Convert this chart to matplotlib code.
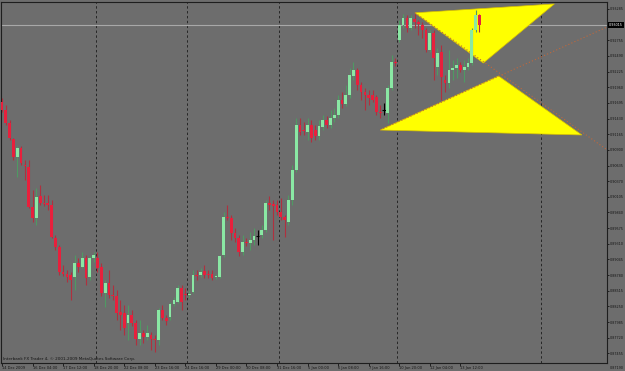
import matplotlib
matplotlib.use("Agg")
import matplotlib.pyplot as plt
from matplotlib.patches import Polygon

# H4 candles (price units)
opens = [0.91710, 0.91575, 0.91355, 0.91084, 0.90779, 0.90932, 0.90644, 0.90610, 0.89932, 0.89746,
         0.90119, 0.90000, 0.90000, 0.89966, 0.89408, 0.89255, 0.88832, 0.88798, 0.88781, 0.88747,
         0.88984, 0.88917, 0.89069, 0.88747, 0.89069, 0.89069, 0.88917, 0.88476, 0.88646, 0.88443,
         0.88426, 0.88155, 0.88138, 0.87968, 0.88104, 0.87968, 0.87698, 0.87799, 0.87732, 0.87765,
         0.87698, 0.87681, 0.88189, 0.88053, 0.88070, 0.88290, 0.88324, 0.88561, 0.88459, 0.88443,
         0.88493, 0.88781, 0.88781, 0.88849, 0.88798, 0.88798, 0.88747, 0.88747, 0.89120, 0.89763,
         0.89746, 0.89492, 0.89408, 0.89171, 0.89340, 0.89323, 0.89374, 0.89442, 0.89458, 0.89543,
         0.90000, 0.89983, 0.89966, 0.89848, 0.89763, 0.89679, 0.90051, 0.90559, 0.91321, 0.91236,
         0.91203, 0.91321, 0.91236, 0.91135, 0.91287, 0.91405, 0.91321, 0.91439, 0.91490, 0.91744,
         0.91676, 0.91829, 0.92150, 0.92252, 0.91998, 0.91879, 0.91829, 0.91829, 0.91795, 0.91541,
         0.91575, 0.91524, 0.91947, 0.92387, 0.92760, 0.93014, 0.93132, 0.92963, 0.93115, 0.93065,
         0.93014, 0.92929, 0.92591, 0.92878, 0.92303, 0.92557, 0.92083, 0.92032, 0.92252, 0.92286,
         0.92337, 0.92252, 0.92303, 0.92370, 0.92929, 0.93183]
highs = [0.91778, 0.91659, 0.91405, 0.91101, 0.90965, 0.90965, 0.90729, 0.90729, 0.90220, 0.90254,
         0.90305, 0.90136, 0.90136, 0.90051, 0.89458, 0.89289, 0.88951, 0.88866, 0.88832, 0.89120,
         0.89069, 0.89171, 0.89120, 0.89103, 0.89171, 0.89171, 0.88984, 0.88697, 0.88866, 0.88612,
         0.88527, 0.88358, 0.88273, 0.88273, 0.88189, 0.88019, 0.88019, 0.87850, 0.87935, 0.87816,
         0.87765, 0.88223, 0.88273, 0.88104, 0.88324, 0.88409, 0.88612, 0.88612, 0.88561, 0.88527,
         0.88866, 0.88866, 0.88900, 0.88951, 0.88866, 0.88866, 0.88798, 0.89120, 0.89848, 0.89966,
         0.89797, 0.89577, 0.89458, 0.89458, 0.89408, 0.89509, 0.89577, 0.89543, 0.89628, 0.90051,
         0.90119, 0.90051, 0.90051, 0.90085, 0.89797, 0.90136, 0.90644, 0.91439, 0.91439, 0.91372,
         0.91439, 0.91405, 0.91321, 0.91405, 0.91490, 0.91473, 0.91575, 0.91609, 0.91829, 0.91879,
         0.91998, 0.92286, 0.92387, 0.92286, 0.92049, 0.91947, 0.91913, 0.91913, 0.91829, 0.91659,
         0.91693, 0.91998, 0.92506, 0.92455, 0.93098, 0.93200, 0.93183, 0.93183, 0.93200, 0.93098,
         0.93065, 0.92963, 0.92929, 0.92929, 0.92624, 0.92675, 0.92167, 0.92591, 0.92421, 0.92455,
         0.92387, 0.92421, 0.92455, 0.92963, 0.93268, 0.93200]
lows = [0.91541, 0.91321, 0.91067, 0.90729, 0.90441, 0.90644, 0.90390, 0.89915, 0.89679, 0.89628,
        0.89966, 0.89949, 0.89882, 0.89408, 0.89205, 0.88781, 0.88764, 0.88663, 0.88358, 0.88527,
        0.88832, 0.88900, 0.88612, 0.88697, 0.89001, 0.88832, 0.88426, 0.88240, 0.88392, 0.88358,
        0.88019, 0.87850, 0.87765, 0.87681, 0.87918, 0.87596, 0.87596, 0.87630, 0.87681, 0.87512,
        0.87478, 0.87596, 0.88019, 0.87935, 0.88019, 0.88257, 0.88307, 0.88189, 0.88358, 0.88392,
        0.88476, 0.88697, 0.88747, 0.88730, 0.88730, 0.88697, 0.88713, 0.88730, 0.89086, 0.89712,
        0.89374, 0.89340, 0.89103, 0.89120, 0.89272, 0.89205, 0.89289, 0.89289, 0.89408, 0.89509,
        0.89882, 0.89374, 0.89797, 0.89712, 0.89425, 0.89628, 0.89966, 0.90526, 0.91152, 0.91152,
        0.91067, 0.91033, 0.91067, 0.91067, 0.91236, 0.91270, 0.91270, 0.91372, 0.91439, 0.91609,
        0.91643, 0.91778, 0.92083, 0.91913, 0.91744, 0.91575, 0.91659, 0.91710, 0.91490, 0.91439,
        0.91490, 0.91355, 0.91913, 0.92320, 0.92726, 0.92963, 0.92895, 0.92929, 0.92963, 0.92844,
        0.92794, 0.92557, 0.92557, 0.92083, 0.92167, 0.91744, 0.91879, 0.91947, 0.92083, 0.92116,
        0.92218, 0.92049, 0.92252, 0.92337, 0.92895, 0.92895]
closes = [0.91575, 0.91355, 0.91101, 0.90779, 0.90932, 0.90678, 0.90627, 0.89932, 0.89746, 0.90102,
          0.90000, 0.89983, 0.89966, 0.89425, 0.89255, 0.88832, 0.88798, 0.88747, 0.88697, 0.88984,
          0.88917, 0.89069, 0.88730, 0.89069, 0.89120, 0.88900, 0.88476, 0.88646, 0.88443, 0.88426,
          0.88138, 0.88104, 0.87884, 0.88104, 0.87968, 0.87698, 0.87799, 0.87732, 0.87799, 0.87698,
          0.87681, 0.88189, 0.88053, 0.88002, 0.88290, 0.88358, 0.88561, 0.88324, 0.88443, 0.88459,
          0.88781, 0.88764, 0.88832, 0.88781, 0.88781, 0.88730, 0.88764, 0.89103, 0.89763, 0.89746,
          0.89492, 0.89408, 0.89171, 0.89340, 0.89323, 0.89374, 0.89442, 0.89442, 0.89543, 0.90000,
          0.89966, 0.89949, 0.89848, 0.89763, 0.89712, 0.90051, 0.90559, 0.91321, 0.91203, 0.91220,
          0.91321, 0.91101, 0.91135, 0.91304, 0.91405, 0.91321, 0.91439, 0.91490, 0.91744, 0.91676,
          0.91829, 0.92167, 0.92252, 0.91998, 0.91879, 0.91829, 0.91778, 0.91744, 0.91541, 0.91524,
          0.91575, 0.91947, 0.92387, 0.92370, 0.93014, 0.93132, 0.92963, 0.93132, 0.93065, 0.93031,
          0.92929, 0.92591, 0.92878, 0.92455, 0.92540, 0.92133, 0.92032, 0.92252, 0.92286, 0.92337,
          0.92252, 0.92303, 0.92370, 0.92929, 0.93183, 0.93015]

date_labels = ["14 Dec 2009", "16 Dec 04:00", "17 Dec 12:00", "18 Dec 20:00", "22 Dec 08:00",
               "23 Dec 16:00", "24 Dec 16:00", "29 Dec 00:00", "30 Dec 08:00", "31 Dec 16:00",
               "5 Jan 00:00", "6 Jan 08:00", "7 Jan 16:00", "10 Jan 20:00", "12 Jan 04:00",
               "13 Jan 12:00"]
date_bars = [0, 8, 16, 24, 32, 40, 48, 56, 64, 72, 80, 88, 96, 104, 112, 120]

price_ticks = [0.87455, 0.87720, 0.87985, 0.88250, 0.88515, 0.88780, 0.89045, 0.89310,
               0.89575, 0.89840, 0.90105, 0.90370, 0.90635, 0.90900, 0.91165, 0.91430,
               0.91695, 0.91960, 0.92225, 0.92490, 0.92755, 0.93285]
bottom_label = 0.87190
bid = 0.93015

separator_bars = [24.5, 48.5, 72.5, 103.5, 141.0]

# drawn objects (bar index, price)
tri_upper = [(108.1, 0.93220), (144.6, 0.93370), (126.0, 0.92370)]
tri_lower = [(99.0, 0.91236), (130.0, 0.92150), (151.8, 0.91152)]
line_up = [(99.0, 0.91236), (158.4, 0.92980)]
line_down = [(108.1, 0.93220), (158.4, 0.90900)]

bg = "#6d6d6d"
bull, bear = "#8ae8a4", "#e8203c"
bull_wick, bear_wick = "#4f9963", "#b0303e"
txt = "#151515"

fig = plt.figure(figsize=(6.25, 3.71), dpi=100, facecolor=bg)
ax = fig.add_axes([1 / 625, 8 / 371, 606 / 625, 361 / 371], facecolor=bg)
ax.set_xlim(-0.26, 158.38)
ax.set_ylim(0.87292, 0.93403)

for s in separator_bars:
    ax.axvline(s, color="#262626", lw=0.7, ls=(0, (2.5, 2.5)), zorder=1)
ax.axhline(bid, color="#a8a8a8", lw=0.8, zorder=1.2)

ax.add_patch(Polygon(tri_upper, closed=True, facecolor="#ffff00", edgecolor="#d8c000", lw=0.5, zorder=1.5))
ax.add_patch(Polygon(tri_lower, closed=True, facecolor="#ffff00", edgecolor="#d8c000", lw=0.5, zorder=1.5))
for ln in (line_up, line_down):
    ax.plot([p[0] for p in ln], [p[1] for p in ln], color="#c0683c", lw=0.8,
            ls=(0, (1, 2)), zorder=1.6)

for i, (o, h, l, c) in enumerate(zip(opens, highs, lows, closes)):
    if o == c:
        ax.vlines(i, l, h, colors="black", lw=0.8, zorder=2)
        ax.hlines(c, i - 0.4, i + 0.4, colors="black", lw=0.8, zorder=3)
        continue
    up = c > o
    ax.vlines(i, l, h, colors=bull_wick if up else bear_wick, lw=0.8, zorder=2)
    ax.bar(i, max(abs(c - o), 0.00012), bottom=min(o, c), width=0.72,
           color=bull if up else bear, lw=0, zorder=3)

for sp in ax.spines.values():
    sp.set_color("#1e1e1e")
    sp.set_linewidth(0.8)

ax.set_xticks(date_bars)
ax.set_xticklabels(date_labels, ha="left")
ax.tick_params(axis="x", length=2, width=0.6, color=txt, labelsize=2.6, labelcolor=txt, pad=0.3)
ax.yaxis.tick_right()
ax.set_yticks(price_ticks)
ax.set_yticklabels([f"{v:.5f}" for v in price_ticks])
ax.tick_params(axis="y", length=1.5, width=0.6, color=txt, labelsize=2.45, labelcolor=txt, pad=0.3)

ax.annotate(f"{bottom_label:.5f}", xy=(1.0, bottom_label), xycoords=ax.get_yaxis_transform(),
            xytext=(1.8, 0.6), textcoords="offset points", va="center", ha="left",
            fontsize=2.45, color=txt, annotation_clip=False)
ax.annotate(f"{bid:.5f}", xy=(1.0, bid), xycoords=ax.get_yaxis_transform(),
            xytext=(1.6, 0), textcoords="offset points", va="center", ha="left",
            fontsize=2.45, color="white", annotation_clip=False,
            bbox=dict(boxstyle="square,pad=0.3", facecolor="black", edgecolor="none"))

fig.text(3 / 625, 1 - 359 / 371, "Interbank FX Trader 4, \u00a9 2001-2009 MetaQuotes Software Corp.",
         fontsize=3.0, color=txt, va="center", ha="left")

fig.savefig("out.png", dpi=100, facecolor=bg)
